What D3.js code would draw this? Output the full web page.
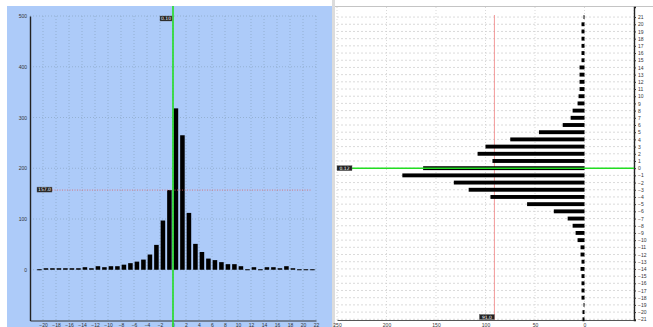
<!DOCTYPE html>
<html>
<head>
<meta charset="utf-8">
<script src="https://cdn.jsdelivr.net/npm/d3@7"></script>
<style>
  html, body { margin: 0; padding: 0; background: #ffffff; }
  svg { display: block; font-family: "DejaVu Sans", sans-serif; }
</style>
</head>
<body>
<svg id="chart" width="653" height="327"></svg>
<script>
// Histogram (left): bin start values and counts
const histBins = d3.range(-21, 22);
const histCounts = [1, 3, 3, 3, 3, 3, 3, 5, 3, 7, 5, 7, 7, 10, 13, 16, 20, 30, 49, 97, 157,
                    318, 265, 112, 51, 35, 22, 19, 15, 11, 11, 7, 1, 5, 1, 5, 5, 3, 7, 3, 1, 1, 1];
const histXTicks = d3.range(-20, 23, 2);
const histYTicks = [0, 100, 200, 300, 400, 500];
const histMean = 0;
const histLevel = 157;
const histMeanLabel = "0.10";
const histLevelLabel = "157.0";

// Horizontal profile (right): row index and length
const rowIndex = d3.range(21, -22, -1);
const rowValues = [1, 3, 3, 3, 3, 3, 3, 5, 5, 5, 5, 6, 7, 12, 14, 22, 46, 75, 100, 108, 93,
                   163, 184, 132, 117, 95, 58, 31, 17, 12, 9, 7, 4, 4, 3, 4, 3, 3, 3, 3, 1, 2, 2];
const rowXTicks = [0, 50, 100, 150, 200, 250];
const rowLevel = 91;
const rowMeanRow = 0;
const rowLevelLabel = "91.0";
const rowMeanLabel = "0.12";

const svg = d3.select("#chart");

// ---------- left panel ----------
svg.append("rect").attr("x", 7).attr("y", 6).attr("width", 325).attr("height", 321)
  .attr("fill", "#adcbf9");

const hx = d3.scaleLinear().domain([-22, 22]).range([30, 316]);
const hy = d3.scaleLinear().domain([-100, 500]).range([320.5, 16]);
const L = svg.append("g");

// grid
L.selectAll("line.vg").data(histXTicks).join("line")
  .attr("x1", d => hx(d)).attr("x2", d => hx(d))
  .attr("y1", hy(500)).attr("y2", hy(-100))
  .attr("stroke", "#8ea9c9").attr("stroke-width", 0.8).attr("stroke-dasharray", "1,2");
L.selectAll("line.hg").data(histYTicks).join("line")
  .attr("x1", hx(-22)).attr("x2", hx(22))
  .attr("y1", d => hy(d)).attr("y2", d => hy(d))
  .attr("stroke", "#8ea9c9").attr("stroke-width", 0.8).attr("stroke-dasharray", "1,2");

// axes
const hxAxis = d3.axisBottom(hx).tickValues(histXTicks).tickSize(0).tickPadding(3);
const hxg = L.append("g").attr("transform", `translate(0,${hy(-100)})`).call(hxAxis);
hxg.select(".domain").attr("stroke", "#333").attr("stroke-width", 1.2);
hxg.selectAll("text").attr("font-size", 5).attr("fill", "#333");

const hyAxis = d3.axisLeft(hy).tickValues(histYTicks).tickSize(0).tickPadding(3);
const hyg = L.append("g").attr("transform", `translate(${hx(-22)},0)`).call(hyAxis);
hyg.select(".domain").attr("stroke", "#222").attr("stroke-width", 1.4);
hyg.selectAll("text").attr("font-size", 5).attr("fill", "#333");

// bars
const step = hx(1) - hx(0);
L.selectAll("rect.bar").data(histBins).join("rect")
  .attr("x", (d) => hx(d) + step * 0.1)
  .attr("width", step * 0.7)
  .attr("y", (d, i) => hy(histCounts[i]))
  .attr("height", (d, i) => Math.max(1, hy(0) - hy(histCounts[i])))
  .attr("fill", "#000");

// level line
L.append("line").attr("x1", 37).attr("x2", 311)
  .attr("y1", hy(histLevel)).attr("y2", hy(histLevel))
  .attr("stroke", "#e06060").attr("stroke-width", 0.8).attr("stroke-dasharray", "1,1.5");
// mean line
L.append("line").attr("x1", hx(histMean)).attr("x2", hx(histMean))
  .attr("y1", 6).attr("y2", 327)
  .attr("stroke", "#22dd22").attr("stroke-width", 1.6);

function tag(g, x, y, w, text) {
  g.append("rect").attr("x", x).attr("y", y).attr("width", w).attr("height", 5)
    .attr("fill", "#222").attr("stroke", "#666").attr("stroke-width", 0.4);
  g.append("text").attr("x", x + w / 2).attr("y", y + 4.2).attr("text-anchor", "middle")
    .attr("font-size", 4.5).attr("fill", "#fff").text(text);
}
tag(L, hx(histMean) - 13, 16, 12, histMeanLabel);
tag(L, 37, hy(histLevel) - 3, 15, histLevelLabel);

// ---------- separator ----------
svg.append("rect").attr("x", 332).attr("y", 0).attr("width", 3).attr("height", 327)
  .attr("fill", "#dcdcdc");
svg.append("line").attr("x1", 335).attr("x2", 653).attr("y1", 6.5).attr("y2", 6.5)
  .attr("stroke", "#c4c4c4").attr("stroke-width", 1);

// ---------- right panel ----------
const rx = d3.scaleLinear().domain([-50, 250]).range([634, 337]);
const ry = d3.scaleLinear().domain([-21.1, 22.4]).range([320, 7]);
const R = svg.append("g");

R.selectAll("line.rh").data(rowIndex).join("line")
  .attr("x1", rx(250)).attr("x2", rx(-50))
  .attr("y1", d => ry(d)).attr("y2", d => ry(d))
  .attr("stroke", "#d0d0d0").attr("stroke-width", 0.8).attr("stroke-dasharray", "2,2");
R.selectAll("line.rv").data(rowXTicks.concat([-50])).join("line")
  .attr("x1", d => rx(d)).attr("x2", d => rx(d))
  .attr("y1", ry(22.4)).attr("y2", ry(-21.1))
  .attr("stroke", "#cfcfcf").attr("stroke-width", 0.8).attr("stroke-dasharray", "1,2");

// bottom axis
const rxAxis = d3.axisBottom(rx).tickValues(rowXTicks).tickSize(0).tickPadding(3);
const rxg = R.append("g").attr("transform", `translate(0,${ry(-21.1)})`).call(rxAxis);
rxg.select(".domain").attr("stroke", "#555").attr("stroke-width", 1);
rxg.selectAll("text").attr("font-size", 5).attr("fill", "#333");

// right axis
const ryAxis = d3.axisRight(ry).tickValues(rowIndex).tickSize(2).tickPadding(2);
const ryg = R.append("g").attr("transform", `translate(${rx(-50)},0)`).call(ryAxis);
ryg.select(".domain").attr("stroke", "#222").attr("stroke-width", 1.4);
ryg.selectAll("line").attr("stroke", "#333");
ryg.selectAll("text").attr("font-size", 5).attr("fill", "#333");

// level line
R.append("line").attr("x1", rx(rowLevel)).attr("x2", rx(rowLevel))
  .attr("y1", ry(22.4) + 8).attr("y2", ry(-21.1))
  .attr("stroke", "#f08080").attr("stroke-width", 0.8);

// bars
const band = ry(0) - ry(1);
R.selectAll("rect.rbar").data(rowIndex).join("rect")
  .attr("x", (d, i) => rx(rowValues[i]))
  .attr("width", (d, i) => Math.max(0.8, rx(0) - rx(rowValues[i])))
  .attr("y", d => ry(d) - band * 0.27)
  .attr("height", band * 0.54)
  .attr("fill", "#000");

// mean row line
R.append("line").attr("x1", rx(250)).attr("x2", rx(-50))
  .attr("y1", ry(rowMeanRow)).attr("y2", ry(rowMeanRow))
  .attr("stroke", "#22dd22").attr("stroke-width", 1.6);

tag(R, rx(250), ry(rowMeanRow) - 2.5, 15, rowMeanLabel);
tag(R, rx(rowLevel) - 15, 314.5, 15, rowLevelLabel);
</script>
</body>
</html>
